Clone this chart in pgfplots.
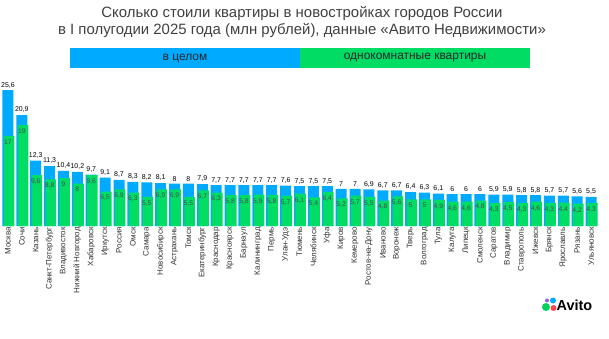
\documentclass[border=0pt]{standalone}
\usepackage{pgfplots}
\pgfplotsset{compat=1.18}
\usepackage{pgfplotstable}
\usepackage{fontspec}
\setmainfont{Liberation Sans}
\definecolor{cblue}{RGB}{0,170,255}
\definecolor{cgreen}{RGB}{0,220,100}
\definecolor{ctitle}{RGB}{64,64,64}
\definecolor{cpurple}{RGB}{150,90,240}
\definecolor{cred}{RGB}{255,70,80}
\definecolor{clogoblue}{RGB}{0,170,255}
\definecolor{clogogreen}{RGB}{0,210,90}

\pgfplotstableread{
x all one
0 25.6 17
1 20.9 19
2 12.3 9.6
3 11.3 8.8
4 10.4 9
5 10.2 8
6 9.7 9.6
7 9.1 6.5
8 8.7 6.9
9 8.3 6.3
10 8.2 5.5
11 8.1 6.9
12 8 6.9
13 8 5.5
14 7.9 6.7
15 7.7 6.3
16 7.7 5.8
17 7.7 5.8
18 7.7 5.9
19 7.7 5.8
20 7.6 5.7
21 7.5 6.1
22 7.5 5.4
23 7.5 6.4
24 7 5.2
25 7 5.7
26 6.9 5.5
27 6.7 4.8
28 6.7 5.6
29 6.4 5
30 6.3 5
31 6.1 4.9
32 6 4.6
33 6 4.6
34 6 4.8
35 5.9 4.3
36 5.9 4.5
37 5.8 4.3
38 5.8 4.6
39 5.7 4.3
40 5.7 4.4
41 5.6 4.2
42 5.5 4.3
}\datatable

\begin{document}
\begin{tikzpicture}
\path[use as bounding box] (0bp,0bp) rectangle (609bp,339bp);
% title
\node[text=ctitle, font=\fontsize{15}{18}\selectfont, align=center] at (302bp,317bp)
  {Сколько стоили квартиры в новостройках городов России\\в I полугодии 2025 года (млн рублей), данные «Авито Недвижимости»};
% legend band
\fill[cblue] (70bp,271bp) rectangle (300bp,291bp);
\fill[cgreen] (300bp,271bp) rectangle (530bp,291bp);
\node[font=\fontsize{12}{13}\selectfont, text=black!85] at (185bp,281bp) {в целом};
\node[font=\fontsize{12}{13}\selectfont, text=black!85] at (415bp,281bp) {однокомнатные квартиры};
% logo
\fill[clogogreen] (546bp,32bp) circle (4bp);
\fill[cred] (553.5bp,31bp) circle (3bp);
\fill[clogoblue] (553bp,38.5bp) circle (3bp);
\fill[cpurple] (547bp,38.5bp) circle (2bp);
\node[anchor=west, font=\fontsize{14.5}{16}\bfseries\selectfont, inner sep=0pt] at (556.5bp,34bp) {Avito};

\begin{axis}[
  at={(1bp,113bp)}, anchor=south west,
  scale only axis, width=597bp, height=138bp,
  xmin=-0.5, xmax=42.5, ymin=0, ymax=26,
  clip=false,
  axis line style={draw=none},
  tick style={draw=none},
  ytick=\empty,
  xtick={0,...,42},
  xticklabels={Москва,Сочи,Казань,Санкт-Петербург,Владивосток,Нижний Новгород,Хабаровск,Иркутск,Россия,Омск,Самара,Новосибирск,Астрахань,Томск,Екатеринбург,Краснодар,Красноярск,Барнаул,Калининград,Пермь,Улан-Удэ,Тюмень,Челябинск,Уфа,Киров,Кемерово,Ростов-на-Дону,Иваново,Воронеж,Тверь,Волгоград,Тула,Калуга,Липецк,Смоленск,Саратов,Владимир,Ставрополь,Ижевск,Брянск,Ярославль,Рязань,Ульяновск},
  xticklabel style={rotate=90, anchor=east, font=\fontsize{8}{9.5}\selectfont, text=black!80, inner sep=1bp},
  major tick length=0pt,
  /pgf/number format/assume math mode=true,
  /pgf/number format/use comma,
]
\addplot[ybar, fill=cblue, draw=none, bar width=11bp, bar shift=0bp,
  nodes near coords, every node near coord/.append style={font=\fontsize{7}{8}\selectfont, text=black, anchor=south, inner sep=1.5bp, yshift=0.5bp}]
  table[x=x, y=all] {\datatable};
\addplot[ybar, fill=cgreen, draw=none, bar width=10.5bp, bar shift=1.2bp,
  nodes near coords, every node near coord/.append style={font=\fontsize{6.8}{8}\selectfont, text=black!70, anchor=north, inner sep=1bp, yshift=-2.5bp}]
  table[x=x, y=one] {\datatable};
\end{axis}
\end{tikzpicture}
\end{document}
